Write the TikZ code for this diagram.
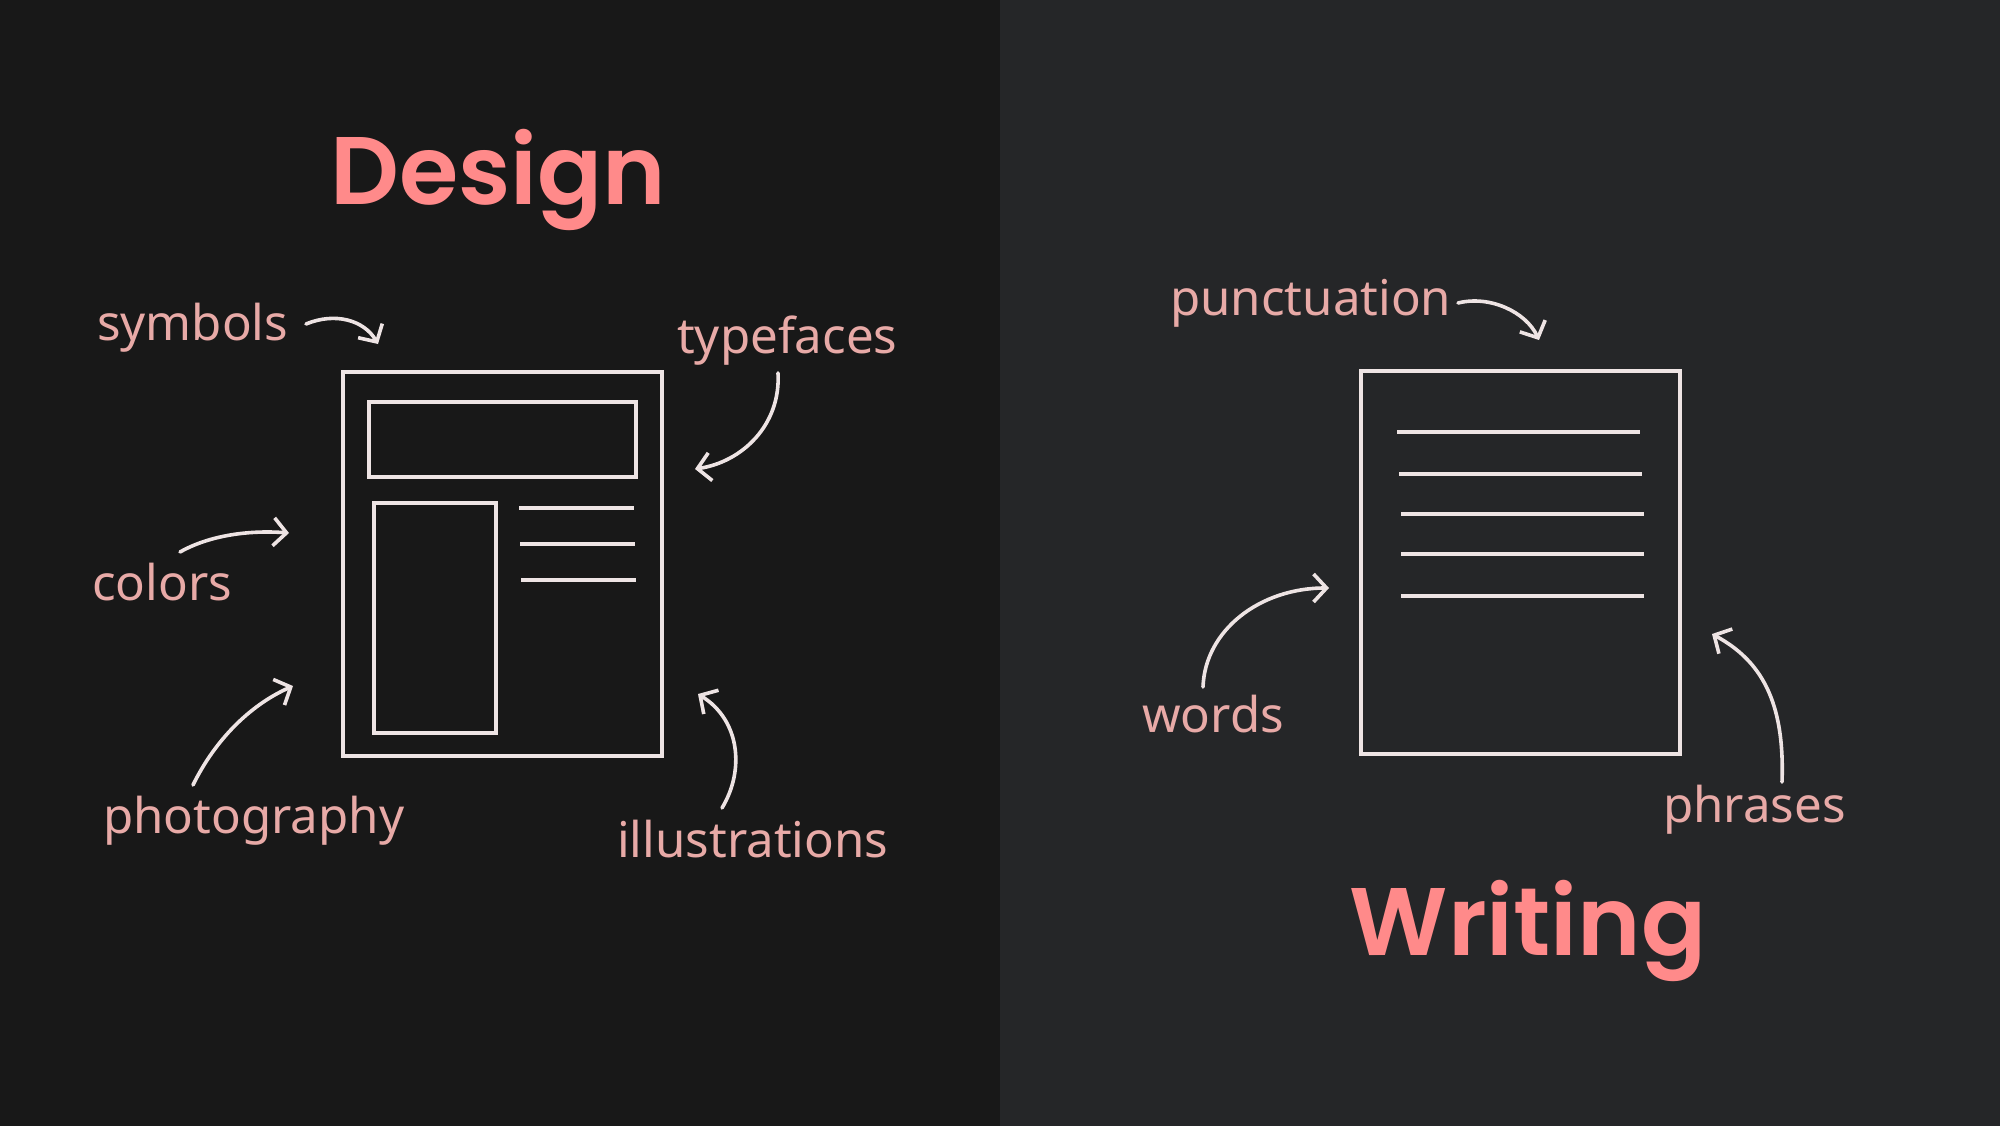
\documentclass[tikz,border=0pt]{standalone}
\usepackage{fontspec}
\setmainfont{Noto Sans}
\newfontfamily\headfont{Poppins}[UprightFont={* SemiBold}]
\usetikzlibrary{arrows.meta}
\definecolor{bgleft}{HTML}{181818}
\definecolor{bgright}{HTML}{252628}
\definecolor{headc}{HTML}{FF8A8A}
\definecolor{labc}{HTML}{E8AAA7}
\definecolor{linec}{HTML}{EEE4E4}
\tikzset{
  head/.style={font=\headfont\fontsize{96}{110}\selectfont, text=headc, inner sep=0pt},
  lab/.style={font=\fontsize{49.2}{58}\selectfont, text=labc, inner sep=0pt, anchor=base west},
  doc/.style={draw=linec, line width=4pt},
  arr/.style={draw=linec, line width=3.6pt, line cap=round, -{Straight Barb[length=13pt,width=28pt,line width=3.6pt]}}
}
\begin{document}
\begin{tikzpicture}[x=1pt,y=-1pt]
\useasboundingbox (0,0) rectangle (2000,1126);
\fill[bgleft] (0,0) rectangle (1000,1126);
\fill[bgright] (1000,0) rectangle (2000,1126);

% headings
\node[head, anchor=base] (design) at (498,205) {Design};
\node[head, anchor=base] (writing) at (1528,955) {Writing};

% left document
\draw[doc] (343,372) rectangle (662,756);
\draw[doc] (369,402) rectangle (636,477);
\draw[doc] (374,503) rectangle (496,733);
\coordinate (l1a) at (519,508); \coordinate (l1b) at (634,508);
\coordinate (l2a) at (520,544); \coordinate (l2b) at (635,544);
\coordinate (l3a) at (521,580); \coordinate (l3b) at (636,580);
\draw[doc] (l1a) -- (l1b);
\draw[doc] (l2a) -- (l2b);
\draw[doc] (l3a) -- (l3b);

% right document
\draw[doc] (1361,371) rectangle (1680,754);
\coordinate (r1a) at (1397,432); \coordinate (r1b) at (1640,432);
\coordinate (r2a) at (1399,474); \coordinate (r2b) at (1642,474);
\coordinate (r3a) at (1401,514); \coordinate (r3b) at (1644,514);
\coordinate (r4a) at (1401,554); \coordinate (r4b) at (1644,554);
\coordinate (r5a) at (1401,596); \coordinate (r5b) at (1644,596);
\foreach \i in {1,...,5} { \draw[doc] (r\i a) -- (r\i b); }

% labels
\node[lab] (symbols) at (97,340) {symbols};
\node[lab] (typefaces) at (677,353) {typefaces};
\node[lab] (colors) at (92,600) {colors};
\node[lab] (photography) at (103,833) {photography};
\node[lab] (illustrations) at (617,857) {illustrations};
\node[lab] (punctuation) at (1170,315) {punctuation};
\node[lab] (words) at (1142,732) {words};
\node[lab] (phrases) at (1663,822) {phrases};

% arrow ends
\coordinate (sS) at (306,324); \coordinate (sE) at (378,344);
\coordinate (tS) at (778,373); \coordinate (tE) at (695,469);
\coordinate (cS) at (180,552); \coordinate (cE) at (289,533);
\coordinate (pS) at (193,785); \coordinate (pE) at (293,686);
\coordinate (iS) at (722,808); \coordinate (iE) at (698,694);
\coordinate (uS) at (1458,303); \coordinate (uE) at (1539,340);
\coordinate (wS) at (1203,687); \coordinate (wE) at (1329,588);
\coordinate (hS) at (1782,782); \coordinate (hE) at (1712,634);

\draw[arr] (sS) .. controls (335,312) and (364,320) .. (sE);
\draw[arr] (tS) .. controls (781,425) and (742,462) .. (tE);
\draw[arr] (cS) .. controls (210,535) and (250,530) .. (cE);
\draw[arr] (pS) .. controls (215,740) and (250,705) .. (pE);
\draw[arr] (iS) .. controls (745,770) and (740,720) .. (iE);
\draw[arr] (uS) .. controls (1490,295) and (1526,312) .. (uE);
\draw[arr] (wS) .. controls (1205,630) and (1260,588) .. (wE);
\draw[arr] (hS) .. controls (1785,700) and (1760,660) .. (hE);
\end{tikzpicture}
\end{document}
